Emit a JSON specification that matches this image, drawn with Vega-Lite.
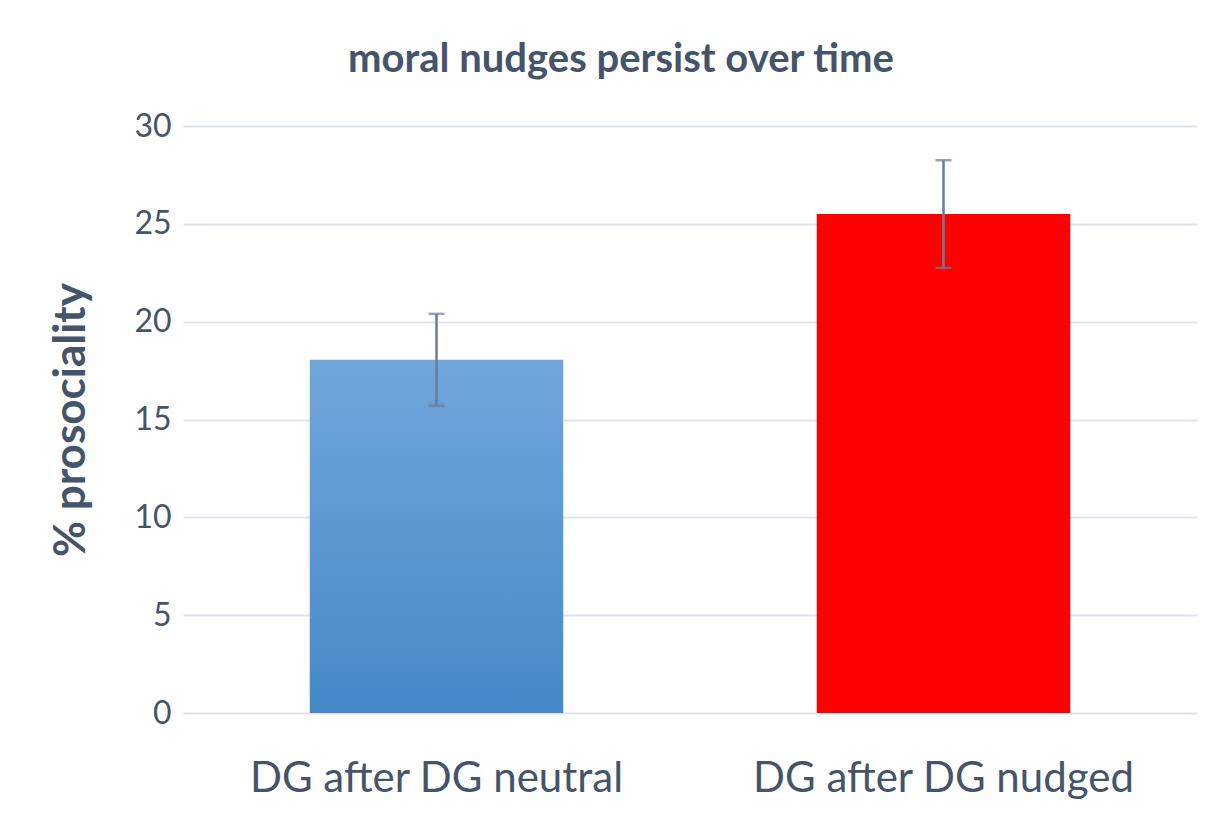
{
  "$schema": "https://vega.github.io/schema/vega-lite/v6.json",
  "width": 1014,
  "height": 587,
  "autosize": {"type": "none"},
  "padding": {"left": 183, "top": 126, "right": 28, "bottom": 103},
  "background": "white",
  "title": {
    "text": "moral nudges persist over time",
    "font": "Lato",
    "fontSize": 40,
    "fontWeight": "bold",
    "color": "#44546a",
    "anchor": "middle",
    "dx": -69,
    "offset": 30
  },
  "data": {
    "values": [
      {"group": "DG after DG neutral", "value": 18.05, "lo": 15.7, "hi": 20.4},
      {"group": "DG after DG nudged", "value": 25.5, "lo": 22.75, "hi": 28.25}
    ]
  },
  "config": {
    "view": {"stroke": null},
    "font": "Lato"
  },
  "encoding": {
    "x": {
      "field": "group",
      "type": "nominal",
      "sort": null,
      "scale": {"paddingInner": 0.5, "paddingOuter": 0.25},
      "axis": {
        "title": null,
        "labelAngle": 0,
        "labelFontSize": 42,
        "labelLimit": 0,
        "labelColor": "#44546a",
        "labelPadding": 45,
        "domain": false,
        "ticks": false
      }
    }
  },
  "layer": [
    {
      "transform": [{"filter": "datum.group === 'DG after DG neutral'"}],
      "mark": {
        "type": "bar",
        "color": {
          "gradient": "linear",
          "x1": 0, "y1": 0, "x2": 0, "y2": 1,
          "stops": [
            {"offset": 0, "color": "#71a6db"},
            {"offset": 1, "color": "#4589c8"}
          ]
        }
      },
      "encoding": {
        "y": {
          "field": "value",
          "type": "quantitative",
          "scale": {"domain": [0, 30]},
          "axis": {
            "title": "% prosociality",
            "titleFontSize": 44,
            "titleFontWeight": "bold",
            "titleColor": "#44546a",
            "titlePadding": 40,
            "values": [0, 5, 10, 15, 20, 25, 30],
            "labelFontSize": 32,
            "labelColor": "#44546a",
            "labelPadding": 12,
            "domain": false,
            "ticks": false,
            "gridColor": "#dde3ec",
            "gridWidth": 2
          }
        }
      }
    },
    {
      "transform": [{"filter": "datum.group === 'DG after DG nudged'"}],
      "mark": {"type": "bar", "color": "#ff0000"},
      "encoding": {
        "y": {"field": "value", "type": "quantitative"}
      }
    },
    {
      "mark": {"type": "rule", "color": "#6a7d98", "strokeWidth": 2.5},
      "encoding": {
        "y": {"field": "lo", "type": "quantitative"},
        "y2": {"field": "hi"}
      }
    },
    {
      "mark": {"type": "tick", "color": "#6a7d98", "thickness": 2.5, "size": 16},
      "encoding": {
        "y": {"field": "lo", "type": "quantitative"}
      }
    },
    {
      "mark": {"type": "tick", "color": "#6a7d98", "thickness": 2.5, "size": 16},
      "encoding": {
        "y": {"field": "hi", "type": "quantitative"}
      }
    }
  ]
}
